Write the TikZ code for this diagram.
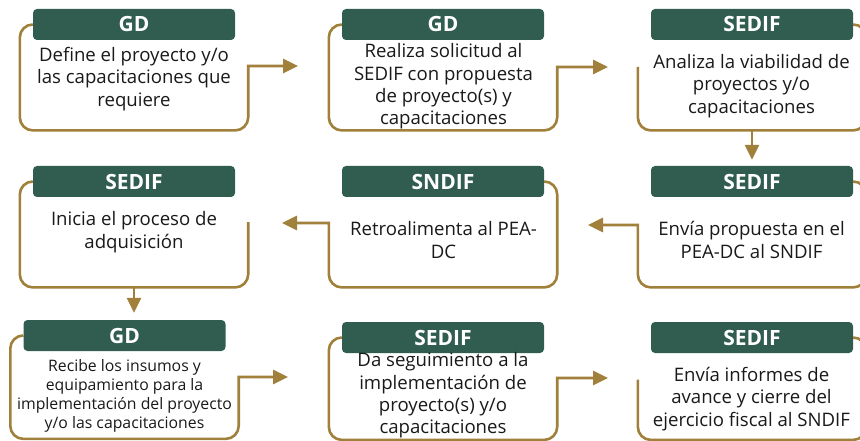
\documentclass[tikz,border=0pt]{standalone}
\usepackage{fontspec}
\setmainfont{Open Sans}
\usepackage{tikz}
\usetikzlibrary{arrows.meta, backgrounds}
\definecolor{tabgreen}{RGB}{48,93,80}
\definecolor{tabgold}{RGB}{160,128,58}
\tikzstyle{head} = [rectangle, rounded corners=4pt, minimum width=202pt, minimum height=31pt, inner sep=0pt, text centered, fill=tabgreen, text=white, font=\fontsize{21}{22}\selectfont\bfseries]
\tikzstyle{area} = [rectangle, minimum width=228pt, minimum height=105.5pt, inner sep=0pt, anchor=north]
\tikzstyle{body} = [align=center, inner sep=0pt, text=black!90, font=\fontsize{18.6}{22.4}\selectfont]
\tikzstyle{smallbody} = [body, font=\fontsize{15.8}{18.8}\selectfont]
\tikzstyle{frame} = [draw=tabgold, line width=2.6pt, rounded corners=13pt]
\tikzstyle{arrow} = [frame, -{Triangle[length=15pt,width=14pt]}]

\begin{document}
\begin{tikzpicture}
			[x=1pt, y=-1pt, node distance=309pt]

			\useasboundingbox (0,0) rectangle (860,441);
			\clip (0,0) rectangle (860,441);

			% headers
			\node (h1) [head] at (134,24.5) {GD};
			\node (h2) [head, right of = h1] {GD};
			\node (h3) [head, right of = h2] {SEDIF};
			\node (h4) [head] at (134,181.5) {SEDIF};
			\node (h5) [head, right of = h4] {SNDIF};
			\node (h6) [head, right of = h5] {SEDIF};
			\node (h7) [head] at (124.5,335.5) {GD};
			\node (h8) [head] at (443,337.5) {SEDIF};
			\node (h9) [head, right of = h8] {SEDIF};

			% frame areas
			\node (f1) [area] at (h1.center) {};
			\node (f2) [area] at (h2.center) {};
			\node (f3) [area] at (h3.center) {};
			\node (f4) [area] at (h4.center) {};
			\node (f5) [area] at (h5.center) {};
			\node (f6) [area] at (h6.center) {};
			\node (f7) [area, minimum height=103pt] at (h7.center) {};
			\node (f8) [area, minimum height=102pt] at (h8.center) {};
			\node (f9) [area, minimum height=102pt] at (h9.center) {};

			% texts
			\node (b1) [body] at (134,79) {Define el proyecto y/o\\las capacitaciones que\\requiere};
			\node (b2) [body] at (443.5,86.5) {Realiza solicitud al\\SEDIF con propuesta\\de proyecto(s) y\\capacitaciones};
			\node (b3) [body] at (751.5,86) {Analiza la viabilidad de\\proyectos y/o\\capacitaciones};
			\node (b4) [body] at (134,232) {Inicia el proceso de\\adquisición};
			\node (b5) [body] at (443.5,240) {Retroalimenta al PEA-\\DC};
			\node (b6) [body] at (751.5,240) {Envía propuesta en el\\PEA-DC al SNDIF};
			\node (b7) [smallbody] at (124.5,396) {Recibe los insumos y\\equipamiento para la\\implementación del proyecto\\y/o las capacitaciones};
			\node (b8) [body] at (443,395.5) {Da seguimiento a la\\implementación de\\proyecto(s) y/o\\capacitaciones};
			\node (b9) [body] at (751.5,399) {Envía informes de\\avance y cierre del\\ejercicio fiscal al SNDIF};

			% arrow ends
			\coordinate (t1) at (298,66);
			\coordinate (t2) at (608,67);
			\coordinate (t5) at (282,223);
			\coordinate (t6) at (588,225);
			\coordinate (t7) at (288,377);
			\coordinate (t8) at (608,378);

			\begin{scope}[on background layer]
			\draw [arrow] (h1.west) -| (f1.south west) -- (f1.south east) [sharp corners] -- (f1.east |- t1) -- (t1);
			\draw [arrow] (h2.west) -| (f2.south west) -- (f2.south east) [sharp corners] -- (f2.east |- t2) -- (t2);
			\draw [frame] (h3.east) -| (f3.south east) -| ([yshift=-42.5pt]f3.north west);
			\draw [frame] (h4.west) -| (f4.south west) -| ([yshift=-40.5pt]f4.north east);
			\draw [arrow] (h5.east) -| (f5.south east) -- (f5.south west) [sharp corners] -- (f5.west |- t5) -- (t5);
			\draw [arrow] (h6.east) -| (f6.south east) -- (f6.south west) [sharp corners] -- (f6.west |- t6) -- (t6);
			\draw [arrow] (h7.west) -| (f7.south west) -- (f7.south east) [sharp corners] -- (f7.east |- t7) -- (t7);
			\draw [arrow] (h8.west) -| (f8.south west) -- (f8.south east) [sharp corners] -- (f8.east |- t8) -- (t8);
			\draw [frame] (h9.east) -| (f9.south east) -| ([yshift=-42pt]f9.north west);
			\end{scope}

			\draw [arrow, shorten >=6pt] (f3.south) -- (h6.north);
			\draw [arrow, shorten >=7pt] (f4.south) -- (f4.south |- h7.north);

			\end{tikzpicture}
\end{document}
